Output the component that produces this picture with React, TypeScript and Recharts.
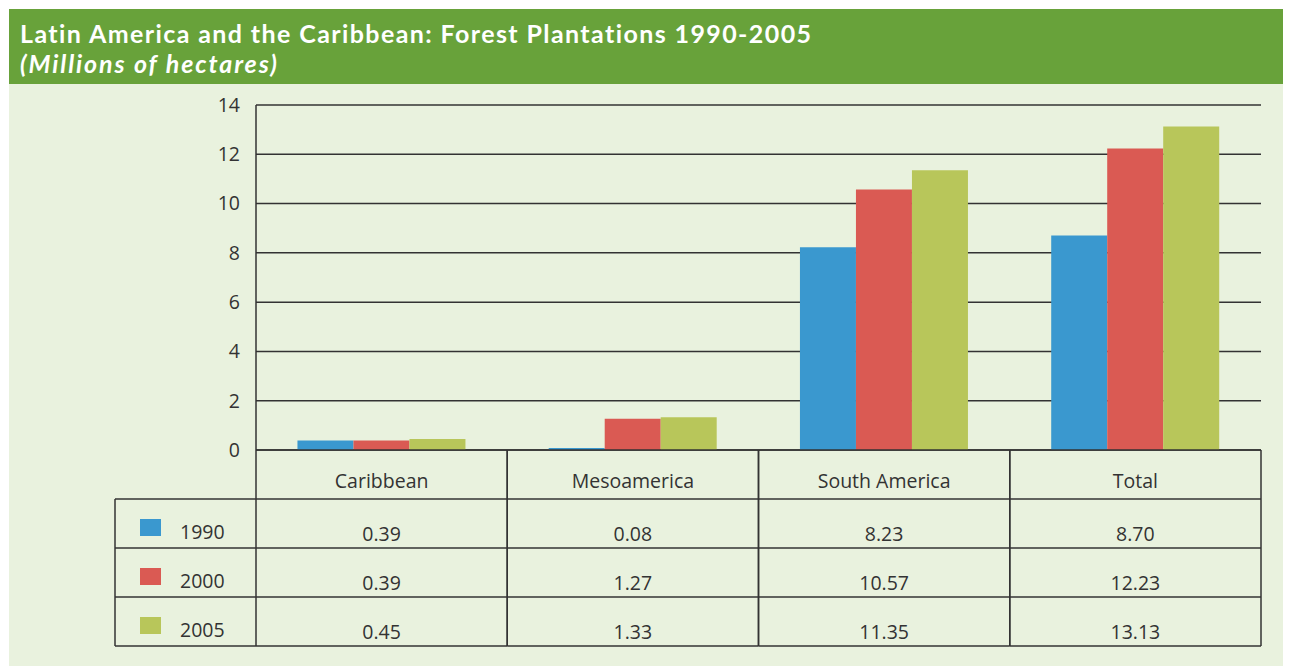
import React from 'react'
import { BarChart, Bar, XAxis, YAxis, CartesianGrid } from 'recharts'

const categories = ['Caribbean', 'Mesoamerica', 'South America', 'Total']
const years = ['1990', '2000', '2005']
const values1990 = [0.39, 0.08, 8.23, 8.7]
const values2000 = [0.39, 1.27, 10.57, 12.23]
const values2005 = [0.45, 1.33, 11.35, 13.13]
const yTicks = [0, 2, 4, 6, 8, 10, 12, 14]

const seriesValues = [values1990, values2000, values2005]
const colors = ['#3a98cf', '#da5a53', '#b8c65a']

const data = categories.map((name, i) => ({
  name,
  y1990: values1990[i],
  y2000: values2000[i],
  y2005: values2005[i]
}))

const CHART_W = 1282
const CHART_H = 582
const MARGIN = { top: 21, right: 30, left: 0, bottom: 20 }
const Y_WIDTH = 247
const BAND = (CHART_W - MARGIN.left - MARGIN.right - Y_WIDTH) / categories.length
const ROW_H = 49
const LEGEND_W = 141
const LINE = '#333'
const FONT = '"Open Sans", sans-serif'
const TXT = 19.5

function TableTick(props: any) {
  const { x, y, payload } = props
  const i = payload.index
  const left = x - BAND / 2
  const right = x + BAND / 2
  const bottom = y + ROW_H * 4

  return (
    <g>
      <line x1={left} y1={y} x2={left} y2={bottom} stroke={LINE} strokeWidth={1.5} />
      <line x1={right} y1={y} x2={right} y2={bottom} stroke={LINE} strokeWidth={1.5} />
      {[1, 2, 3, 4].map((r) => (
        <line key={r} x1={left} y1={y + ROW_H * r} x2={right} y2={y + ROW_H * r} stroke={LINE} strokeWidth={1.5} />
      ))}
      <text x={x} y={y + 38} textAnchor="middle" fontSize={TXT} fill="#333" fontFamily={FONT}>
        {payload.value}
      </text>
      {seriesValues.map((vals, r) => (
        <text key={r} x={x} y={y + ROW_H * (r + 1) + 42} textAnchor="middle" fontSize={TXT} fill="#333" fontFamily={FONT}>
          {vals[i].toFixed(2)}
        </text>
      ))}
      {i === 0 && (
        <g>
          <line x1={left - LEGEND_W} y1={y + ROW_H} x2={left - LEGEND_W} y2={bottom} stroke={LINE} strokeWidth={1.5} />
          {[1, 2, 3, 4].map((r) => (
            <line key={r} x1={left - LEGEND_W} y1={y + ROW_H * r} x2={left} y2={y + ROW_H * r} stroke={LINE} strokeWidth={1.5} />
          ))}
          {years.map((yr, r) => (
            <g key={yr}>
              <rect x={left - 116} y={y + ROW_H * (r + 1) + 20} width={21} height={17} fill={colors[r]} />
              <text x={left - 76} y={y + ROW_H * (r + 1) + 40} fontSize={TXT} fill="#333" fontFamily={FONT}>
                {yr}
              </text>
            </g>
          ))}
        </g>
      )}
    </g>
  )
}

export default function App() {
  return (
    <div style={{ width: CHART_W + 1, margin: '1px 0 0 1px', fontFamily: FONT }}>
      <div style={{ background: '#68a23a', height: 75, color: 'white', paddingLeft: 11, paddingTop: 9, boxSizing: 'border-box', fontFamily: 'Lato, sans-serif' }}>
        <div style={{ fontSize: 25, fontWeight: 700, lineHeight: '30px', letterSpacing: 1.4 }}>
          Latin America and the Caribbean: Forest Plantations 1990-2005
        </div>
        <div style={{ fontSize: 25, fontWeight: 700, fontStyle: 'italic', lineHeight: '30px', letterSpacing: 1.9 }}>
          (Millions of hectares)
        </div>
      </div>
      <div style={{ background: '#e9f2de', height: CHART_H }}>
        <BarChart width={CHART_W} height={CHART_H} data={data} margin={MARGIN} barCategoryGap="16.5%" barGap={0}>
          <CartesianGrid vertical={false} stroke={LINE} strokeWidth={1.5} />
          <YAxis
            width={Y_WIDTH}
            domain={[0, 14]}
            ticks={yTicks}
            interval={0}
            axisLine={{ stroke: LINE, strokeWidth: 1.5 }}
            tickLine={false}
            tickSize={0}
            tickMargin={16}
            tick={{ fontSize: TXT, fill: '#333', fontFamily: FONT }}
          />
          <XAxis
            dataKey="name"
            height={ROW_H * 4}
            axisLine={{ stroke: LINE, strokeWidth: 1.5 }}
            tickLine={false}
            tickSize={0}
            tickMargin={0}
            interval={0}
            tick={<TableTick />}
          />
          <Bar dataKey="y1990" name={years[0]} fill={colors[0]} isAnimationActive={false} />
          <Bar dataKey="y2000" name={years[1]} fill={colors[1]} isAnimationActive={false} />
          <Bar dataKey="y2005" name={years[2]} fill={colors[2]} isAnimationActive={false} />
        </BarChart>
      </div>
    </div>
  )
}
